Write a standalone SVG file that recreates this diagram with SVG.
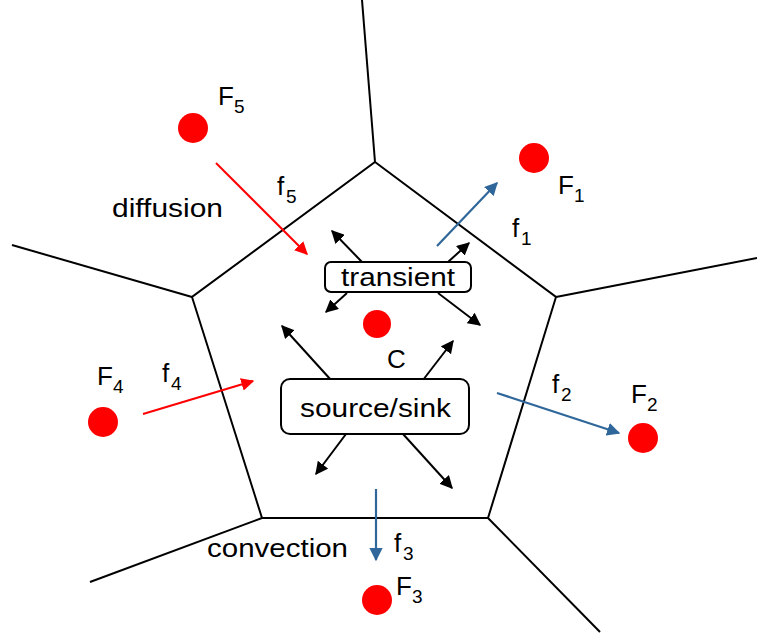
<svg xmlns="http://www.w3.org/2000/svg" width="757" height="635" viewBox="0 0 757 635">
<defs>
<style>
text{font-family:"Liberation Sans",Arial,sans-serif;fill:#000}
.lbl{font-size:26px}
.sub{font-size:19px}
.edge{fill:none;stroke:#000;stroke-width:2}
.box{fill:#fff;stroke:#000;stroke-width:2}
.dot{fill:#ff0000}
.ar{stroke:#000;stroke-width:2;fill:none}
.red{stroke:#ff0000;stroke-width:2;fill:none}
.blue{stroke:#30679a;stroke-width:2.2;fill:none}
</style>
<marker id="hk" viewBox="0 0 10 10" refX="9" refY="5" markerWidth="6.5" markerHeight="6.5" orient="auto" markerUnits="strokeWidth"><path d="M0,0 L10,5 L0,10 z" fill="#000"/></marker>
<marker id="hr" viewBox="0 0 10 10" refX="9" refY="5" markerWidth="6.5" markerHeight="6.5" orient="auto" markerUnits="strokeWidth"><path d="M0,0 L10,5 L0,10 z" fill="#ff0000"/></marker>
<marker id="hb" viewBox="0 0 10 10" refX="9" refY="5" markerWidth="6" markerHeight="6" orient="auto" markerUnits="strokeWidth"><path d="M0,0 L10,5 L0,10 z" fill="#30679a"/></marker>
</defs>
<rect width="757" height="635" fill="#fff"/>
<g id="cell">
<polygon class="edge" points="375,162 556,297 488,518 262,518 192,297"/>
<line class="edge" x1="375" y1="162" x2="362" y2="0"/>
<line class="edge" x1="556" y1="297" x2="757" y2="258"/>
<line class="edge" x1="488" y1="518" x2="600" y2="632"/>
<line class="edge" x1="262" y1="518" x2="90" y2="582"/>
<line class="edge" x1="192" y1="297" x2="12" y2="245"/>
</g>
<g id="connectors">
<line class="ar" x1="362" y1="262" x2="332" y2="231" marker-end="url(#hk)"/>
<line class="ar" x1="448" y1="262" x2="469" y2="243" marker-end="url(#hk)"/>
<line class="ar" x1="347" y1="293" x2="326" y2="312" marker-end="url(#hk)"/>
<line class="ar" x1="438" y1="293" x2="480" y2="325" marker-end="url(#hk)"/>
<line class="ar" x1="331" y1="380" x2="282" y2="326" marker-end="url(#hk)"/>
<line class="ar" x1="423" y1="380" x2="453" y2="341" marker-end="url(#hk)"/>
<line class="ar" x1="346" y1="434" x2="316" y2="474" marker-end="url(#hk)"/>
<line class="ar" x1="403" y1="434" x2="452" y2="488" marker-end="url(#hk)"/>
<line class="red" x1="216" y1="163" x2="307" y2="254" marker-end="url(#hr)"/>
<line class="red" x1="143" y1="414" x2="253" y2="381" marker-end="url(#hr)"/>
<line class="blue" x1="437" y1="246" x2="497" y2="183" marker-end="url(#hb)"/>
<line class="blue" x1="497" y1="393" x2="619" y2="433" marker-end="url(#hb)"/>
<line class="blue" x1="376" y1="489" x2="376" y2="560" marker-end="url(#hb)"/>
</g>
<g id="transient">
<rect class="box" x="325" y="262" width="146" height="30" rx="6"/>
<text class="lbl" x="398" y="286" text-anchor="middle" textLength="114" lengthAdjust="spacingAndGlyphs">transient</text>
</g>
<g id="source-sink">
<rect class="box" x="281" y="379" width="188" height="55" rx="9"/>
<text class="lbl" x="375.5" y="417" text-anchor="middle" textLength="151" lengthAdjust="spacingAndGlyphs">source/sink</text>
</g>
<g id="C">
<circle class="dot" cx="377" cy="324" r="14"/>
<text class="lbl" x="387" y="368">C</text>
</g>
<g id="F1">
<circle class="dot" cx="534" cy="158" r="15"/>
<text class="lbl" x="558" y="194">F</text><text class="sub" x="574" y="202">1</text>
</g>
<g id="F2">
<circle class="dot" cx="643" cy="438" r="15"/>
<text class="lbl" x="631" y="403">F</text><text class="sub" x="647" y="411">2</text>
</g>
<g id="F3">
<circle class="dot" cx="377" cy="600" r="15"/>
<text class="lbl" x="396" y="595">F</text><text class="sub" x="412" y="603">3</text>
</g>
<g id="F4">
<circle class="dot" cx="103" cy="422" r="15"/>
<text class="lbl" x="97" y="385">F</text><text class="sub" x="113" y="393">4</text>
</g>
<g id="F5">
<circle class="dot" cx="193" cy="128" r="15"/>
<text class="lbl" x="218" y="105">F</text><text class="sub" x="234" y="113">5</text>
</g>
<g id="flux-labels">
<text class="lbl" x="277" y="195">f</text><text class="sub" x="286" y="203">5</text>
<text class="lbl" x="512" y="237">f</text><text class="sub" x="521" y="245">1</text>
<text class="lbl" x="552" y="393">f</text><text class="sub" x="561" y="401">2</text>
<text class="lbl" x="394" y="552">f</text><text class="sub" x="403" y="560">3</text>
<text class="lbl" x="162" y="382">f</text><text class="sub" x="171" y="390">4</text>
<text class="lbl" x="112" y="217" textLength="111" lengthAdjust="spacingAndGlyphs">diffusion</text>
<text class="lbl" x="207" y="557" textLength="141" lengthAdjust="spacingAndGlyphs">convection</text>
</g>
</svg>
